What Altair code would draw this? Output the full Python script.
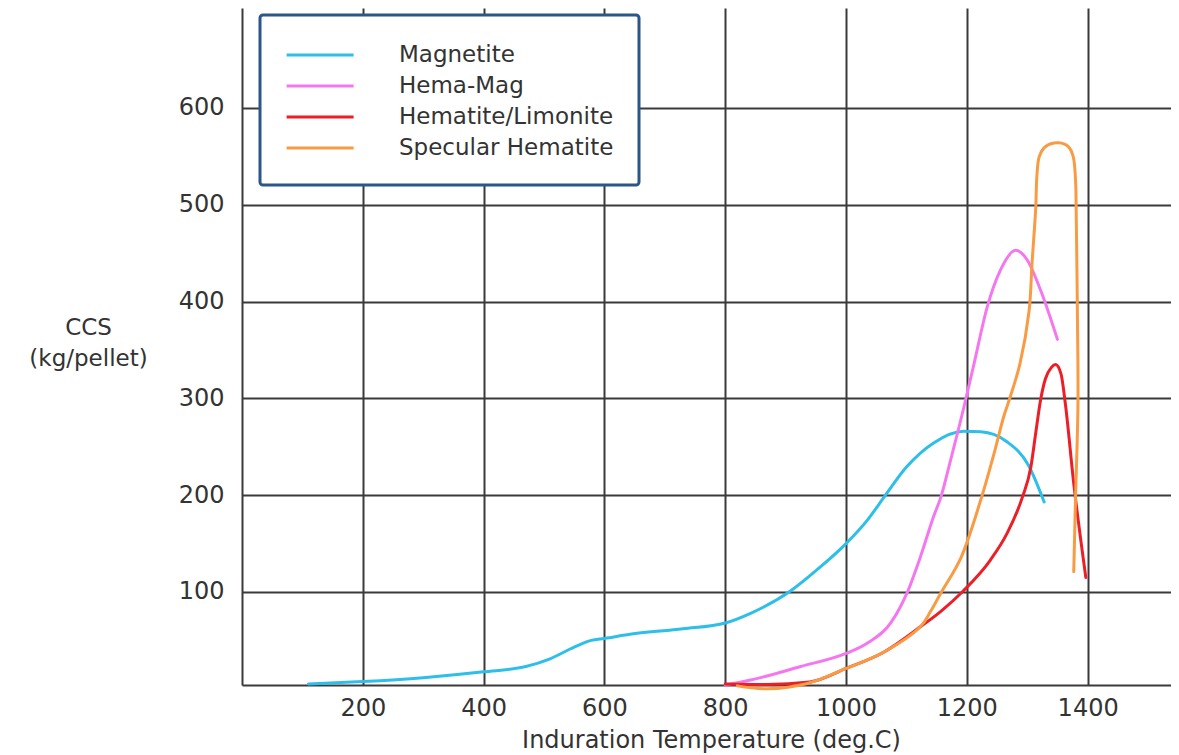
import altair as alt
import pandas as pd

series_names = ["Magnetite", "Hema-Mag", "Hematite/Limonite", "Specular Hematite"]
series_colors = ["#2DBFE9", "#F577EF", "#EC1F27", "#F99B43"]
series_widths = [3, 3, 3, 4]

magnetite_x = [110, 200, 300, 400, 470, 510, 550, 578, 600, 645, 730, 800, 842, 908, 952, 1000, 1035, 1063, 1100, 1145, 1195, 1223, 1267, 1302, 1328]
magnetite_y = [5, 7.5, 11.5, 17.5, 23, 31, 43, 50, 52, 56.5, 62, 68, 78, 101, 123, 150, 174, 198, 229, 254, 266, 265.5, 255, 231, 193]

hemamag_x = [800, 842, 925, 1000, 1035, 1074, 1101, 1123, 1145, 1157, 1173, 1194, 1212, 1234, 1256, 1281, 1300, 1322, 1350]
hemamag_y = [4, 9, 23, 36.5, 47, 68, 99, 136, 178, 198, 236, 288, 336, 395, 433, 453, 443, 412, 361]

hemlim_x = [800, 870, 940, 1000, 1063, 1123, 1157, 1194, 1239, 1267, 1292, 1306, 1314, 1322, 1330, 1340, 1347, 1356, 1363, 1377, 1397]
hemlim_y = [5, 4.5, 7, 21, 38, 64, 80, 101, 133, 161, 198, 229, 264, 298, 320, 332, 335, 325, 295, 212, 115]

specular_x = [820, 870, 936, 1000, 1063, 1123, 1140, 1157, 1190, 1223, 1245, 1261, 1270, 1288, 1303, 1308, 1314, 1316, 1320, 1330, 1352, 1368, 1376, 1380, 1381, 1383, 1384, 1380, 1377]
specular_y = [3, 0, 5.5, 21, 38, 64, 80, 99, 135, 195, 243, 281, 298, 336, 390, 440, 496, 530, 550, 560, 564, 560, 550, 525, 496, 390, 295, 198, 121]

x_ticks = [200, 400, 600, 800, 1000, 1200, 1400]
y_ticks = [100, 200, 300, 400, 500, 600]

rows = []
for name, xs, ys in [
    ("Magnetite", magnetite_x, magnetite_y),
    ("Hema-Mag", hemamag_x, hemamag_y),
    ("Hematite/Limonite", hemlim_x, hemlim_y),
    ("Specular Hematite", specular_x, specular_y),
]:
    for i, (xv, yv) in enumerate(zip(xs, ys)):
        rows.append({"series": name, "temp": xv, "ccs": yv, "i": i})
df = pd.DataFrame(rows)

FONT = "DejaVu Sans"
TXT = "#333333"
GRID = "#3a3a3a"

x_enc = alt.X(
    "temp:Q",
    scale=alt.Scale(domain=[0, 1538], nice=False, zero=False),
    axis=alt.Axis(
        values=x_ticks, format="d", title="Induration Temperature (deg.C)",
        labelFontSize=24, labelFont=FONT, labelColor=TXT, labelPadding=11,
        titleFontSize=24, titleFont=FONT, titleColor=TXT, titleFontWeight="normal",
        titleY=62, titleX=469, titleBaseline="alphabetic", titleAlign="center",
        ticks=False, tickSize=0, grid=True, gridColor=GRID, gridWidth=2,
        domainColor=GRID, domainWidth=2,
    ),
)
y_enc = alt.Y(
    "ccs:Q",
    scale=alt.Scale(domain=[3.9, 703.3], nice=False, zero=False),
    axis=alt.Axis(
        values=y_ticks, format="d", title=["CCS", "(kg/pellet)"],
        labelFontSize=24, labelFont=FONT, labelColor=TXT, labelPadding=18,
        titleFontSize=23, titleFont=FONT, titleColor=TXT, titleFontWeight="normal",
        titleAngle=0, titleX=-154, titleY=319, titleAlign="center", titleBaseline="middle",
        titleLineHeight=31,
        ticks=False, tickSize=0, grid=True, gridColor=GRID, gridWidth=2,
        domainColor=GRID, domainWidth=2,
    ),
)
color_enc = alt.Color(
    "series:N",
    scale=alt.Scale(domain=series_names, range=series_colors),
    legend=alt.Legend(
        title=None, orient="none", legendX=18, legendY=7,
        fillColor="white", strokeColor="#2B5689", padding=25, cornerRadius=3,
        labelFontSize=23, labelFont=FONT, labelColor=TXT, labelOffset=84, labelLimit=500,
        symbolType="M-1,0H4", symbolSize=718, symbolStrokeWidth=3,
        rowPadding=4,
    ),
)
width_enc = alt.StrokeWidth(
    "series:N",
    scale=alt.Scale(domain=series_names, range=series_widths),
    legend=None,
)

base = alt.Chart(df)

smooth = base.transform_filter(
    alt.datum.series != "Specular Hematite"
).mark_line(interpolate="monotone", strokeCap="round", strokeJoin="round").encode(
    x=x_enc, y=y_enc, color=color_enc, strokeWidth=width_enc, order=alt.Order("i:Q"),
)

loop = base.transform_filter(
    alt.datum.series == "Specular Hematite"
).mark_line(interpolate="catmull-rom", strokeCap="round", strokeJoin="round").encode(
    x=x_enc, y=y_enc, color=color_enc, strokeWidth=width_enc, order=alt.Order("i:Q"),
)

chart = alt.layer(smooth, loop).properties(
    width=929, height=677,
    autosize=alt.AutoSizeParams(type="none"),
    padding={"left": 234, "top": 0, "right": 0, "bottom": 68},
).configure_view(stroke=None).configure_legend(strokeWidth=3)

chart.save("out.html", embed_options={"renderer": "svg", "actions": False})
